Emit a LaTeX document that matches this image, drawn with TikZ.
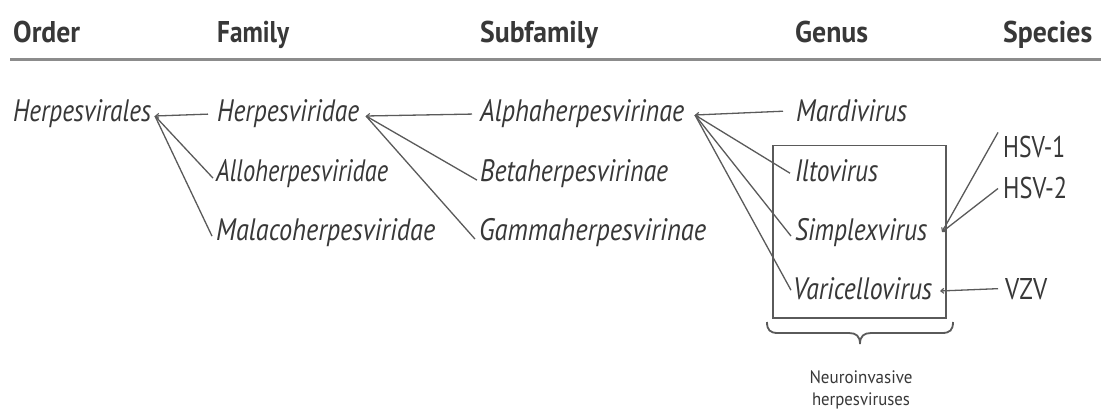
\documentclass[tikz,border=0pt]{standalone}
\usepackage{fontspec}
\usepackage{graphicx}
\setmainfont{PT Sans}
\usetikzlibrary{arrows.meta}
\definecolor{txt}{HTML}{383838}
\definecolor{ln}{HTML}{5A5A5A}
\definecolor{rulec}{HTML}{8C8C8C}
\newcommand{\fitw}[2]{\resizebox{#1pt}{\height}{#2}}
\begin{document}
\begin{tikzpicture}[x=1pt,y=-1pt,
  head/.style={anchor=base west,inner sep=0pt,text=txt,font=\bfseries\fontsize{30}{31}\selectfont},
  taxon/.style={anchor=base west,inner sep=0pt,text=txt,font=\itshape\fontsize{31}{32}\selectfont},
  spec/.style={anchor=base west,inner sep=0pt,text=txt,font=\fontsize{30}{31}\selectfont},
  note/.style={anchor=base,inner sep=0pt,text=txt,font=\fontsize{18}{19}\selectfont},
  conn/.style={draw=ln,line width=1.3pt},
  tipped/.style={conn,-{Straight Barb[length=3pt,width=5pt,line width=1.1pt]}}]
\useasboundingbox[fill=white] (0,0) rectangle (1101,414);
% headers
\node[head] (hOrder) at (13,43) {\fitw{67}{Order}};
\node[head] (hFamily) at (217,43) {\fitw{72}{Family}};
\node[head] (hSub) at (480,43) {\fitw{118}{Subfamily}};
\node[head] (hGenus) at (795,43) {\fitw{73}{Genus}};
\node[head] (hSpecies) at (1003,43) {\fitw{89}{Species}};
\draw[rulec,line width=3pt] (10,60) -- (1101,60);
% taxa
\node[taxon] (order) at (13,122) {\fitw{138}{Herpesvirales}};
\node[taxon] (herp) at (217,122) {\fitw{142}{Herpesviridae}};
\node[taxon] (allo) at (216,182) {\fitw{172}{Alloherpesviridae}};
\node[taxon] (mala) at (216,241) {\fitw{219}{Malacoherpesviridae}};
\node[taxon] (alpha) at (480,122) {\fitw{204}{Alphaherpesvirinae}};
\node[taxon] (beta) at (480,182) {\fitw{188}{Betaherpesvirinae}};
\node[taxon] (gamma) at (479,241) {\fitw{227}{Gammaherpesvirinae}};
\node[taxon] (mard) at (796,122) {\fitw{111}{Mardivirus}};
\node[taxon] (ilto) at (795,182) {\fitw{83}{Iltovirus}};
\node[taxon] (simp) at (795,241) {\fitw{132}{Simplexvirus}};
\node[taxon] (vari) at (793,300) {\fitw{139}{Varicellovirus}};
\node[spec] (hsv1) at (1003,158) {\fitw{62}{HSV-1}};
\node[spec] (hsv2) at (1003,199) {\fitw{64}{HSV-2}};
\node[spec] (vzv) at (1005,299) {\fitw{42}{VZV}};
% junctions
\coordinate (jA) at (155,116);
\coordinate (jB) at (366,116);
\coordinate (jC) at (695,115);
\coordinate (jD) at (942,232);
\coordinate (jE) at (940,291);
% connectors
\draw[tipped] ([xshift=-9pt]herp.west) -- (jA);
\draw[conn] (jA) -- ([shift={(-3pt,-4pt)}]allo.west);
\draw[conn] (jA) -- ([shift={(-4pt,-3pt)}]mala.west);
\draw[tipped] ([xshift=-8pt]alpha.west) -- (jB);
\draw[conn] (jB) -- ([shift={(-3pt,-6pt)}]beta.west);
\draw[conn] (jB) -- ([shift={(-4pt,-6pt)}]gamma.west);
\draw[tipped] ([xshift=-13pt]mard.west) -- (jC);
\draw[conn] (jC) -- ([shift={(-5pt,-2pt)}]ilto.west);
\draw[conn] (jC) -- ([shift={(-4pt,-3pt)}]simp.west);
\draw[conn] (jC) -- ([shift={(-2pt,-1pt)}]vari.west);
\draw[tipped] ([shift={(-5pt,4pt)}]hsv1.north west) -- (jD);
\draw[tipped] ([shift={(-5pt,0pt)}]hsv2.west) -- (jD);
\draw[tipped] ([xshift=-7pt]vzv.west) -- (jE);
% box
\node[draw=ln,line width=1.5pt,inner sep=0pt,minimum width=173pt,minimum height=172pt,anchor=north west] (nbox) at (772,145) {};
% brace
\draw[ln,line width=1.8pt] (767,322) .. controls (767,330) and (770,333) .. (778,333) -- (849,333)
  .. controls (856,333) and (860,336) .. (860,344) .. controls (860,336) and (864,333) .. (871,333)
  -- (942,333) .. controls (950,333) and (953,330) .. (953,322);
\node[note] (n1) at (861,383) {\fitw{103}{Neuroinvasive}};
\node[note] (n2) at (861,405) {\fitw{98}{herpesviruses}};
\end{tikzpicture}
\end{document}
